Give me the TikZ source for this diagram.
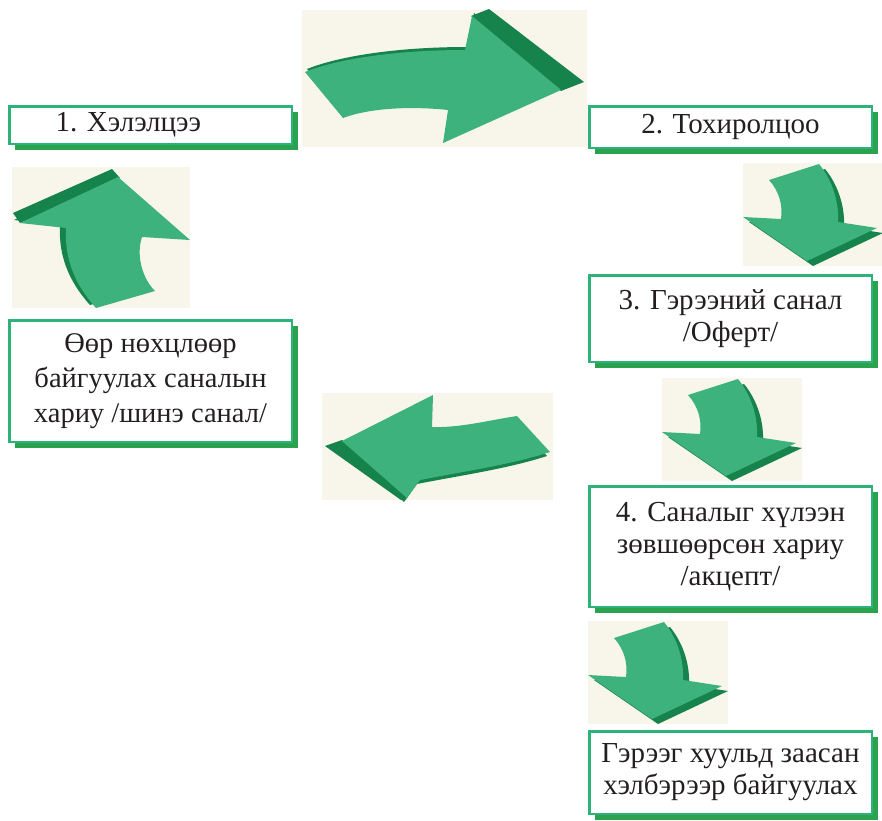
\documentclass[tikz,border=0pt]{standalone}
\usepackage{fontspec}
\setmainfont{Liberation Serif}
\usetikzlibrary{shadows}
\definecolor{argreen}{HTML}{3EB27D}
\definecolor{ardark}{HTML}{17834C}
\definecolor{cream}{HTML}{F8F6EA}
\definecolor{boxline}{HTML}{2DB27A}
\definecolor{boxshadow}{HTML}{2AA24E}
\definecolor{txt}{HTML}{231F20}
\begin{document}
\begin{tikzpicture}[x=1pt,y=-1pt,
  box/.style={draw=boxline, line width=2.5pt, fill=white, minimum width=282.5pt,
    inner sep=0pt, align=center, text=txt,
    drop shadow={shadow xshift=6pt, shadow yshift=-6pt, fill=boxshadow, opacity=1}},
  txtA/.style={font=\fontsize{29}{32}\selectfont},
  txtB/.style={font=\fontsize{28.5}{35}\selectfont},
  dnshape/.style={insert path={(26,17) .. controls (36,28) and (40,42) .. (38,56) -- (0,54) -- (64,98) -- (134,65) -- (95,59) .. controls (96,40) and (90,18) .. (76,1) -- cycle}},
  dnarrow/.pic={
    \fill[cream] (0,0) rectangle (140,103);
    \begin{scope}
      \clip (0,0) rectangle (140,103);
      \fill[ardark, shift={(6,5)}, dnshape];
      \fill[argreen, dnshape];
    \end{scope}
  },
  upshape/.style={insert path={(20,223) -- (118,177) -- (190,240) -- (142,237) .. controls (136,255) and (142,278) .. (155,291) -- (96,308) .. controls (80,290) and (64,265) .. (66,228) -- cycle}},
  topshape/.style={insert path={(305,72) .. controls (340,58) and (400,50) .. (465,50) -- (472,16) -- (561,90) -- (443,143) -- (448,110) .. controls (410,106) and (370,108) .. (343,118) -- cycle}},
  leftshape/.style={insert path={(342,441) -- (433,395) -- (432,427) .. controls (460,428) and (490,420) .. (517,416) -- (550,452) .. controls (510,465) and (460,472) .. (420,480) -- (407,498) -- cycle}}
]
\useasboundingbox (0,0) rectangle (882,820);

% top arrow
\fill[cream] (302,10) rectangle (587,147);
\fill[ardark] (471,16) -- (489,9) -- (584,82) -- (561,91) -- cycle;
\fill[ardark, shift={(2,-3)}, topshape];
\fill[argreen, topshape];

% up arrow
\fill[cream] (12,167) rectangle (190,308);
\begin{scope}
  \clip (12,167) rectangle (190,308);
  \fill[ardark, shift={(-6,-3)}, upshape];
  \fill[ardark] (13,213) -- (112,169) -- (120,178) -- (20,223) -- cycle;
  \fill[argreen, upshape];
\end{scope}

% left arrow
\fill[cream] (322,393) rectangle (553,500);
\fill[ardark, shift={(-3,4)}, leftshape];
\fill[ardark] (325,446) -- (342,440) -- (408,497) -- (401,500) -- cycle;
\fill[argreen, leftshape];

% down arrows
\pic (d1) at (743,163) {dnarrow};
\pic (d2) at (662,378) {dnarrow};
\pic (d3) at (588,621) {dnarrow};

% boxes
\node[box, txtA, minimum height=37.5pt] (b1) at (150.5,125)
  {\makebox[282pt][l]{\hspace{46pt}1. Хэлэлцээ}};
\node[box, txtA, minimum height=41.5pt] (b2) at (730.5,127) {2. Тохиролцоо};
\node[box, txtA, minimum height=86.5pt] (b3) at (730.5,318.5) {3. Гэрээний санал\\/Оферт/};
\node[box, txtB, minimum height=121.5pt] (b0) at (150.5,381) {Өөр нөхцлөөр\\байгуулах саналын\\хариу /шинэ санал/};
\node[box, txtA, minimum height=120.5pt] (b4) at (730.5,546.5) {4. Саналыг хүлээн\\зөвшөөрсөн хариу\\/акцепт/};
\node[box, txtA, minimum height=82.5pt] (b5) at (730.5,772.5) {Гэрээг хуульд заасан\\хэлбэрээр байгуулах};
\end{tikzpicture}
\end{document}
